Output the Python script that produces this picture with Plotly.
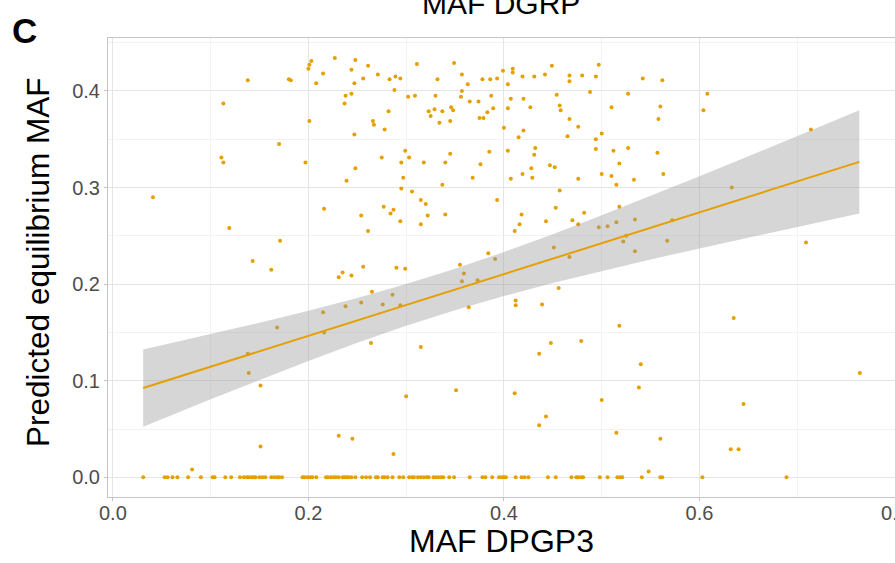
import plotly.graph_objects as go

# Alleles segregating in both panels: (MAF in DPGP3, predicted equilibrium MAF)
seg_dpgp3 = [
    0.041, 0.113, 0.111, 0.113, 0.138, 0.170, 0.180, 0.182, 0.197, 0.201, 0.200, 0.201, 0.203, 0.208, 0.215, 0.216,
    0.227, 0.237, 0.238, 0.239, 0.244, 0.244, 0.247, 0.247, 0.248, 0.248, 0.256, 0.261, 0.266, 0.267, 0.271, 0.275,
    0.277, 0.278, 0.282, 0.283, 0.287, 0.288, 0.289, 0.294, 0.295, 0.295, 0.297, 0.299, 0.302, 0.303, 0.306, 0.309,
    0.311, 0.315, 0.318, 0.320, 0.323, 0.325, 0.329, 0.330, 0.332, 0.334, 0.337, 0.337, 0.340, 0.345, 0.345, 0.346,
    0.348, 0.349, 0.356, 0.357, 0.357, 0.363, 0.365, 0.368, 0.374, 0.375, 0.379, 0.376, 0.378, 0.383, 0.385, 0.386,
    0.387, 0.389, 0.393, 0.393,
    0.399, 0.409, 0.409, 0.404, 0.419, 0.431, 0.442, 0.449, 0.467, 0.467, 0.480, 0.494, 0.497, 0.542, 0.562, 0.608,
    0.604, 0.407, 0.420, 0.404, 0.427, 0.454, 0.457, 0.458, 0.488, 0.527, 0.510, 0.560, 0.558, 0.467, 0.400, 0.420,
    0.415, 0.476, 0.465, 0.494, 0.500, 0.404, 0.432, 0.431, 0.494, 0.512, 0.527, 0.557, 0.518, 0.447, 0.452, 0.428,
    0.419, 0.407, 0.429, 0.476, 0.500, 0.510, 0.515, 0.533, 0.563, 0.457, 0.453, 0.518, 0.714, 0.633,
    0.119, 0.171, 0.143, 0.162, 0.284, 0.254, 0.294, 0.315, 0.322, 0.340, 0.261, 0.256, 0.231, 0.235, 0.244, 0.290,
    0.299, 0.265, 0.355, 0.359, 0.357, 0.373, 0.384, 0.391, 0.364, 0.215, 0.238, 0.254, 0.276, 0.286, 0.294, 0.168,
    0.216, 0.264, 0.315, 0.138,
    0.418, 0.482, 0.416, 0.443, 0.470, 0.476, 0.411, 0.497, 0.506, 0.515, 0.534, 0.572, 0.525, 0.522, 0.567, 0.534,
    0.451, 0.467, 0.709, 0.456, 0.412, 0.412, 0.439, 0.635, 0.518, 0.448, 0.479, 0.436,
    0.139, 0.151, 0.300, 0.351, 0.151, 0.231, 0.245, 0.287, 0.081,
    0.540, 0.764, 0.411, 0.538, 0.500, 0.645, 0.443, 0.436, 0.515, 0.560, 0.632, 0.640, 0.548,
]
seg_pred = [
    0.290, 0.387, 0.331, 0.326, 0.411, 0.345, 0.412, 0.411, 0.326, 0.369, 0.423, 0.427, 0.431, 0.408, 0.418, 0.278,
    0.434, 0.387, 0.395, 0.307, 0.397, 0.422, 0.408, 0.355, 0.432, 0.320, 0.413, 0.426, 0.369, 0.365, 0.417, 0.331,
    0.280, 0.360, 0.379, 0.412, 0.277, 0.401, 0.415, 0.413, 0.326, 0.299, 0.310, 0.338, 0.394, 0.331, 0.296, 0.395,
    0.428, 0.287, 0.326, 0.283, 0.379, 0.374, 0.381, 0.395, 0.412, 0.367, 0.379, 0.303, 0.326, 0.369, 0.335, 0.383,
    0.380, 0.429, 0.394, 0.417, 0.400, 0.407, 0.389, 0.310, 0.389, 0.372, 0.372, 0.324, 0.412, 0.378, 0.337, 0.412,
    0.395, 0.382, 0.413, 0.287,
    0.421, 0.423, 0.419, 0.407, 0.415, 0.415, 0.417, 0.426, 0.416, 0.410, 0.416, 0.415, 0.427, 0.413, 0.411, 0.397,
    0.380, 0.392, 0.392, 0.382, 0.383, 0.396, 0.385, 0.380, 0.399, 0.397, 0.383, 0.384, 0.371, 0.371, 0.362, 0.359,
    0.352, 0.363, 0.353, 0.350, 0.356, 0.338, 0.341, 0.334, 0.340, 0.338, 0.341, 0.336, 0.325, 0.323, 0.321, 0.320,
    0.314, 0.309, 0.310, 0.309, 0.314, 0.312, 0.303, 0.308, 0.314, 0.297, 0.279, 0.280, 0.360, 0.300,
    0.258, 0.245, 0.224, 0.215, 0.273, 0.271, 0.265, 0.262, 0.271, 0.272, 0.255, 0.218, 0.207, 0.212, 0.209, 0.217,
    0.216, 0.192, 0.220, 0.211, 0.203, 0.204, 0.232, 0.226, 0.176, 0.171, 0.177, 0.181, 0.179, 0.189, 0.178, 0.155,
    0.150, 0.139, 0.135, 0.128,
    0.272, 0.274, 0.262, 0.265, 0.266, 0.262, 0.255, 0.259, 0.260, 0.264, 0.267, 0.266, 0.250, 0.244, 0.245, 0.234,
    0.238, 0.228, 0.243, 0.196, 0.183, 0.178, 0.179, 0.165, 0.157, 0.139, 0.141, 0.128,
    0.108, 0.095, 0.084, 0.090, 0.032, 0.043, 0.040, 0.024, 0.008,
    0.117, 0.108, 0.087, 0.093, 0.080, 0.076, 0.063, 0.054, 0.046, 0.040, 0.029, 0.029, 0.006,
]

# Alleles predicted to be lost (equilibrium MAF = 0)
lost_dpgp3 = [
    0.031, 0.053, 0.056, 0.061, 0.066, 0.077, 0.090, 0.102, 0.104, 0.115, 0.121, 0.130, 0.134, 0.137, 0.139, 0.142,
    0.144, 0.146, 0.150, 0.153, 0.156, 0.162, 0.165, 0.168, 0.170, 0.173, 0.194, 0.196, 0.199, 0.202, 0.204,
    0.208, 0.218, 0.220, 0.223, 0.226, 0.228, 0.231, 0.235, 0.237, 0.239, 0.241, 0.244, 0.248, 0.255, 0.259, 0.263,
    0.269, 0.271, 0.276, 0.278, 0.281, 0.286, 0.293, 0.297, 0.303, 0.306, 0.308, 0.312, 0.315, 0.318, 0.321, 0.323,
    0.328, 0.330, 0.333, 0.336, 0.338, 0.344, 0.349, 0.365,
    0.378, 0.381, 0.388, 0.395, 0.398, 0.400, 0.402, 0.412, 0.418, 0.421, 0.425, 0.445, 0.453, 0.469, 0.474, 0.476,
    0.479, 0.481, 0.498, 0.506, 0.516, 0.519, 0.521, 0.541, 0.560, 0.562, 0.603, 0.689,
]

# Linear fit with 95% confidence band
band_x = [0.031, 0.10, 0.15, 0.20, 0.25, 0.30, 0.35, 0.40, 0.45, 0.50, 0.55, 0.60, 0.65, 0.70, 0.7635]
band_fit = [0.0924, 0.1145, 0.1305, 0.1464, 0.1624, 0.1784, 0.1944, 0.2104, 0.2264, 0.2424, 0.2583, 0.2743,
            0.2903, 0.3063, 0.3266]
band_lo = [0.0524, 0.0808, 0.1010, 0.1205, 0.1392, 0.1568, 0.1729, 0.1876, 0.2011, 0.2136, 0.2255, 0.2370,
           0.2483, 0.2593, 0.2731]
band_hi = [0.1324, 0.1482, 0.1600, 0.1723, 0.1856, 0.2000, 0.2159, 0.2332, 0.2517, 0.2712, 0.2911, 0.3116,
           0.3323, 0.3533, 0.3801]

ORANGE = "#E69F00"
FONT = "Liberation Sans, Arial, sans-serif"

all_x = seg_dpgp3 + lost_dpgp3
all_y = seg_pred + [0.0] * len(lost_dpgp3)

fig = go.Figure()
fig.add_trace(go.Scatter(
    x=all_x, y=all_y, mode="markers",
    marker=dict(color=ORANGE, size=4, line=dict(width=0)),
    showlegend=False, hoverinfo="skip",
))
fig.add_trace(go.Scatter(
    x=band_x + band_x[::-1], y=band_hi + band_lo[::-1],
    fill="toself", fillcolor="rgba(153,153,153,0.4)",
    line=dict(width=0), mode="lines", showlegend=False, hoverinfo="skip",
))
fig.add_trace(go.Scatter(
    x=[band_x[0], band_x[-1]], y=[band_fit[0], band_fit[-1]], mode="lines",
    line=dict(color=ORANGE, width=2), showlegend=False, hoverinfo="skip",
))

axis_common = dict(
    showline=True, linecolor="#C4C4C4", linewidth=1, mirror=True,
    showgrid=True, gridcolor="#E5E5E5", gridwidth=1,
    zeroline=False, ticks="outside", ticklen=3, tickcolor="#C4C4C4", tickwidth=1,
    tickfont=dict(family=FONT, size=20, color="#4D4D4D"),
    automargin=False,
)

fig.update_layout(
    width=895, height=563,
    margin=dict(l=108, r=0, t=38, b=66),
    paper_bgcolor="white", plot_bgcolor="white",
    xaxis=dict(range=[-0.005, 0.8], tickvals=[0, 0.2, 0.4, 0.6, 0.8],
               ticktext=["0.0", "0.2", "0.4", "0.6", "0.8"], ticklabeloverflow="allow",
               ticklabelstandoff=-5,
               minor=dict(tickvals=[0.1, 0.3, 0.5, 0.7], showgrid=True, gridcolor="#F2F2F2", ticks=""),
               **axis_common),
    yaxis=dict(range=[-0.0204, 0.4548], tickvals=[0, 0.1, 0.2, 0.3, 0.4],
               ticktext=["0.0", "0.1", "0.2", "0.3", "0.4"],
               minor=dict(tickvals=[0.05, 0.15, 0.25, 0.35, 0.45], showgrid=True, gridcolor="#F2F2F2", ticks=""),
               **axis_common),
    annotations=[
        dict(text="MAF DPGP3", xref="paper", yref="paper", x=0.4994, y=-0.096,
             xanchor="center", yanchor="middle", showarrow=False,
             font=dict(family=FONT, size=32, color="black")),
        dict(text="Predicted equilibrium MAF", xref="paper", yref="paper", x=-0.089, y=0.512,
             xanchor="center", yanchor="middle", textangle=-90, showarrow=False,
             font=dict(family=FONT, size=31.5, color="black")),
        dict(text="MAF DGRP", xref="paper", yref="paper", x=0.4994, y=1.0756,
             xanchor="center", yanchor="middle", showarrow=False,
             font=dict(family=FONT, size=30, color="black")),
        dict(text="<b>C</b>", xref="paper", yref="paper", x=-0.1067, y=1.0153,
             xanchor="center", yanchor="middle", showarrow=False,
             font=dict(family=FONT, size=35, color="black")),
    ],
)

fig.write_html("out.html")
